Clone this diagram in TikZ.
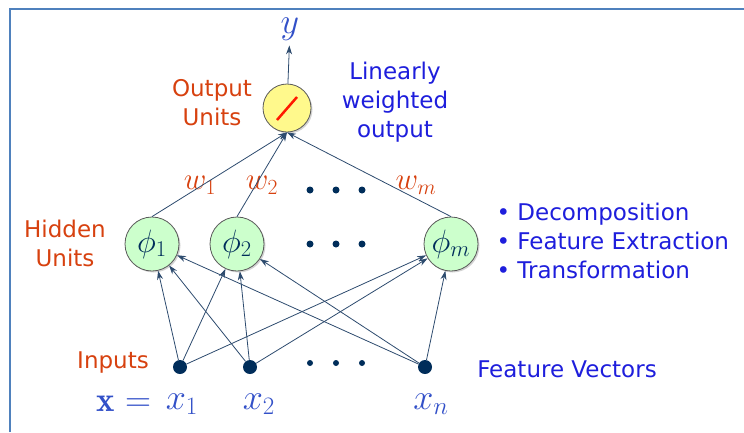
\documentclass[tikz,border=0pt]{standalone}
\usepackage{fontspec}
\setsansfont{DejaVu Sans}
\usetikzlibrary{shadows,arrows.meta}
\definecolor{labelred}{RGB}{215,65,15}
\definecolor{textblue}{RGB}{30,30,220}
\definecolor{mathblue}{RGB}{50,80,200}
\definecolor{edgecol}{RGB}{45,75,110}
\definecolor{dotcol}{RGB}{0,45,90}
\definecolor{framecol}{RGB}{79,129,189}

\begin{document}
\begin{tikzpicture}[x=1pt,y=-1pt]
\tikzstyle{unit}=[circle, draw=black!65, line width=0.8pt, inner sep=0pt,
  drop shadow={opacity=0.35, shadow xshift=1.5pt, shadow yshift=-1.5pt}]
\tikzstyle{hidden}=[unit, fill=green!20, minimum size=54pt, text=dotcol]
\tikzstyle{hlabel}=[font=\fontsize{24}{24}\selectfont, scale=1.3, text=dotcol]
\tikzstyle{output}=[unit, fill=yellow!45, minimum size=48pt]
\tikzstyle{input}=[circle, fill=dotcol, minimum size=14pt, inner sep=0pt]
\tikzstyle{dot}=[circle, fill=dotcol, minimum size=7pt, inner sep=0pt]
\tikzstyle{conn}=[draw=edgecol, line width=0.8pt, -{Stealth[length=9pt,width=6pt]}]
\tikzstyle{redlabel}=[text=labelred, align=center, font=\sffamily\fontsize{23}{29}\selectfont]
\tikzstyle{bluelabel}=[text=textblue, align=center, font=\sffamily\fontsize{23}{29}\selectfont]
\tikzstyle{weight}=[text=labelred, font=\fontsize{24}{24}\selectfont, scale=1.25]
\tikzstyle{var}=[text=mathblue, font=\fontsize{24}{24}\selectfont, scale=1.45]
\useasboundingbox (0,0) rectangle (744,432);
\draw[framecol, line width=1.5pt] (10,432) |- (744,9);

\node[output] (out) at (287,108) {};
\draw[red!80!orange, line width=2.5pt] ([shift={(-10,12)}]out.center) -- ([shift={(10,-11)}]out.center);
\node[var] (y) at (290,29) {$y$};
\node[redlabel] (outlbl) at (212,103) {Output\\Units};
\node[bluelabel] (linlbl) at (395,102) {Linearly\\weighted\\output};

\node[hidden] (h1) at (152,244) {};
\node[hidden] (h2) at (237,244) {};
\node[hidden] (hm) at (451,244) {};
\node[hlabel] (p1) at (h1) {$\phi_1$};
\node[hlabel] (p2) at (h2) {$\phi_2$};
\node[hlabel] (pm) at (hm) {$\phi_m$};
\node[redlabel] (hidlbl) at (65,243) {Hidden\\Units};
\node[bluelabel, align=left, anchor=west] (roles) at (493,241)
  {\textbullet\ Decomposition\\\textbullet\ Feature Extraction\\\textbullet\ Transformation};

\node[input] (x1) at (180,367) {};
\node[input] (x2) at (250,367) {};
\node[input] (xn) at (425,367) {};
\node[redlabel] (inlbl) at (113,362) {Inputs};
\node[bluelabel] (fvlbl) at (567,369) {Feature Vectors};
\node[var] (xeq) at (124,404) {$\mathbf{x}=$};
\node[var] (x1lbl) at (182,404) {$x_1$};
\node[var] (x2lbl) at (259,404) {$x_2$};
\node[var] (xnlbl) at (431,404) {$x_n$};

\node[weight] (w1) at (200,185) {$w_1$};
\node[weight] (w2) at (262,185) {$w_2$};
\node[weight] (wm) at (416,185) {$w_m$};

\foreach \px in {310,336,362} {
  \node[dot] (hd\px) at (\px,244) {};
  \node[dot] (wd\px) at (\px,190) {};
  \node[dot, minimum size=6pt] (xd\px) at (\px,363) {};
}

\draw[conn] (out) -- (y);
\draw[conn] (h1.north) -- (out.south);
\draw[conn] (h2.north) -- (out.south);
\draw[conn] (hm.north) -- (out.south);
\foreach \src in {x1,x2,xn}
  \foreach \dst in {h1,h2,hm}
    \draw[conn] (\src) -- (\dst);
\end{tikzpicture}
\end{document}
